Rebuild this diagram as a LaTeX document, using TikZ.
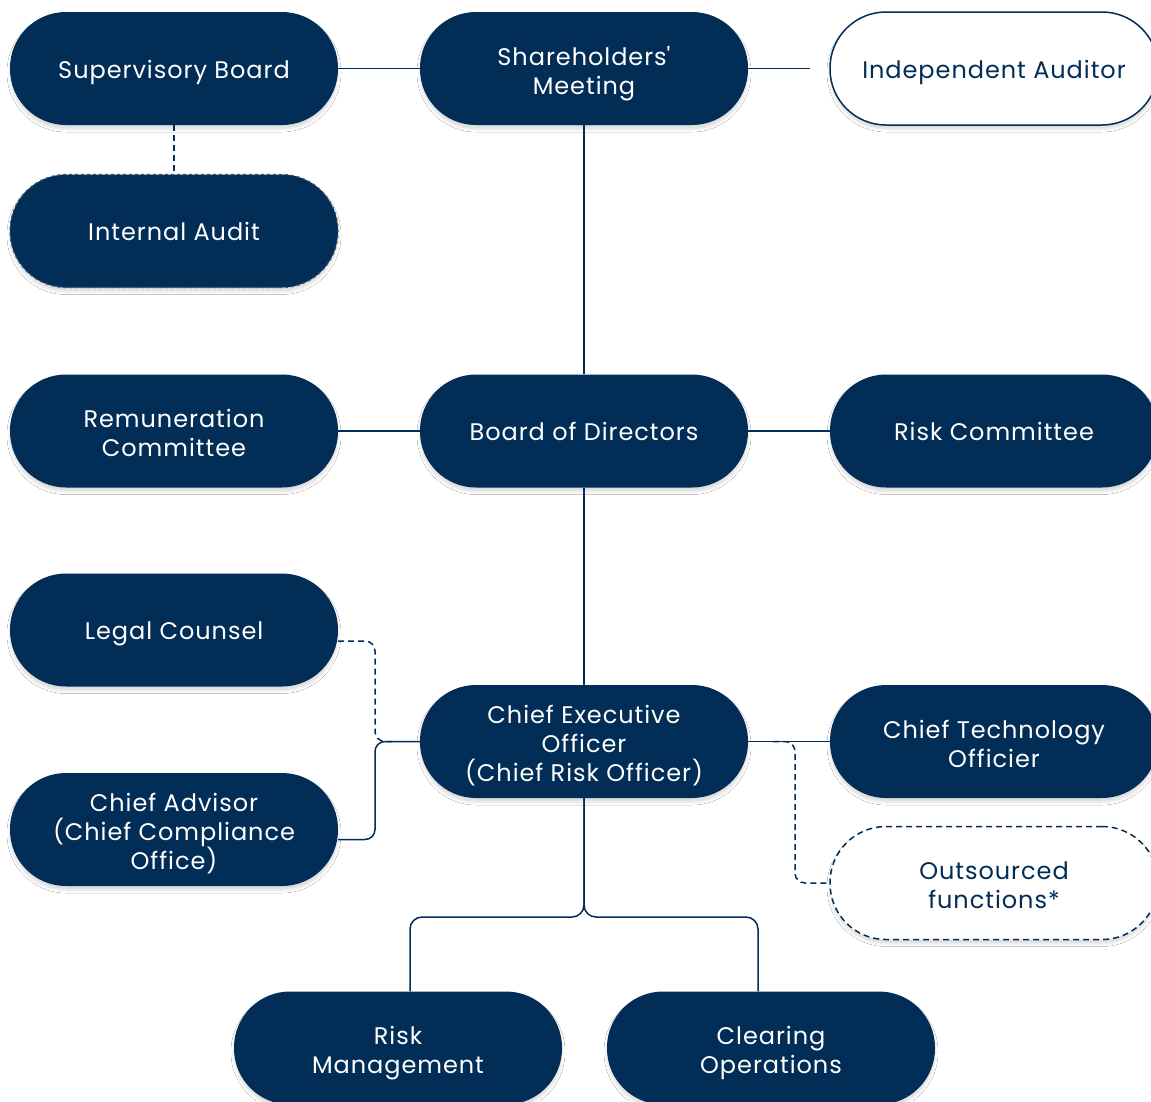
\documentclass[tikz,border=0pt]{standalone}
\usepackage{fontspec}
\setmainfont{Poppins}[LetterSpace=4]
\usetikzlibrary{calc,shadows.blur}
\definecolor{navy}{RGB}{1,45,86}
\newcommand\bottrut{\rule[-8pt]{0pt}{8pt}}
\begin{document}
\begin{tikzpicture}[x=1pt,y=-1pt,
  pill/.style={rectangle, rounded corners=56pt, minimum width=328pt, minimum height=113pt,
    align=center, font=\fontsize{24}{29}\selectfont, inner sep=0pt,
    execute at begin node={\rule{0pt}{27pt}}, execute at end node=\bottrut,
    blur shadow={shadow xshift=0pt, shadow yshift=-4pt, shadow blur radius=3pt, shadow opacity=14}},
  lines2/.style={execute at begin node={\rule{0pt}{59pt}}},
  lines3/.style={execute at begin node={\rule{0pt}{88pt}}},
  dark/.style={pill, fill=navy, text=white},
  darkdash/.style={pill, fill=navy, text=white, draw=navy!80!white, dashed, line width=1.2pt},
  light/.style={pill, fill=white, text=navy, draw=navy, line width=1.5pt},
  lightdash/.style={pill, fill=white, text=navy, draw=navy, line width=1.5pt, dash pattern=on 6pt off 4pt},
  conn/.style={draw=navy, line width=1.5pt},
  dconn/.style={draw=navy, line width=1.5pt, dash pattern=on 6pt off 4pt}]
\path[use as bounding box, clip] (0,0) rectangle (1151,1101);
\fill[white] (0,0) rectangle (1151,1101);

\node[dark] (sb) at (174,68.5) {Supervisory Board};
\node[dark, lines2] (sm) at (584,68.5) {Shareholders\textquotesingle\\Meeting};
\node[light] (ia) at (994,68.5) {Independent Auditor};
\node[darkdash] (iaud) at (174,231) {Internal Audit};
\node[dark, lines2] (rc) at (174,431) {Remuneration\\Committee};
\node[dark] (bod) at (584,431) {Board of Directors};
\node[dark] (risk) at (994,431) {Risk Committee};
\node[dark] (lc) at (174,630) {Legal Counsel};
\node[dark, lines3] (ceo) at (584,741.5) {Chief Executive\\Officer\\(Chief Risk Officer)};
\node[dark, lines2] (cto) at (994,741.5) {Chief Technology\\Officier};
\node[dark, lines3] (ca) at (174,829.5) {Chief Advisor\\(Chief Compliance\\Office)};
\node[lightdash, lines2] (os) at (994,883) {Outsourced\\functions*};
\node[dark, lines2] (rm) at (398,1048) {Risk\\Management};
\node[dark, lines2] (co) at (771,1048) {Clearing\\Operations};

\coordinate (iaend) at (810,68.5);
\coordinate (lj) at (375,741.5);
\coordinate (rj) at (795,883);
\coordinate (split) at (584,917);

\draw[conn] (sb.east) -- (sm.west);
\draw[conn] (sm.east) -- (iaend);
\draw[dconn] (sb.south) -- (iaud.north);
\draw[conn] (sm.south) -- (bod.north);
\draw[conn] (rc.east) -- (bod.west);
\draw[conn] (bod.east) -- (risk.west);
\draw[conn] (bod.south) -- (ceo.north);
\draw[dconn, rounded corners=10pt] ([yshift=-11pt]lc.east) -| (lj) -- ([xshift=-25pt]ceo.west);
\draw[conn, rounded corners=10pt] ([yshift=-10pt]ca.east) -| (lj) -- (ceo.west);
\draw[conn] (ceo.east) -- (cto.west);
\draw[dconn, rounded corners=10pt] ([xshift=25pt]ceo.east) -| (rj) -- (os.west);
\draw[conn, rounded corners=12pt] (ceo.south) -- (split) -| ([xshift=12pt]rm.north);
\draw[conn, rounded corners=12pt] (ceo.south) -- (split) -| ([xshift=-13pt]co.north);
\end{tikzpicture}
\end{document}
